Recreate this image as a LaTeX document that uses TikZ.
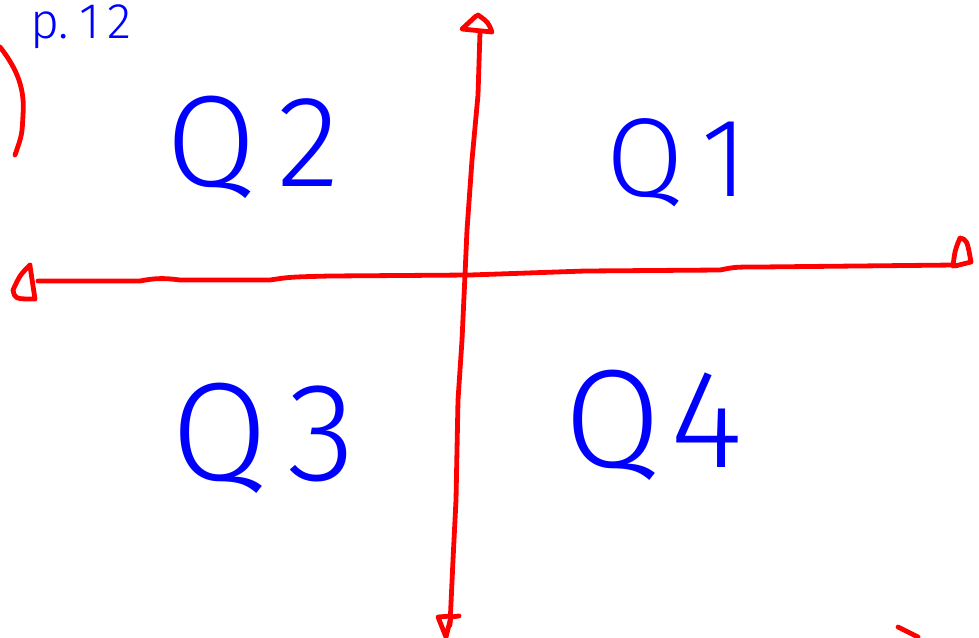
\documentclass[tikz,border=0pt]{standalone}
\usepackage{fontspec}
\newfontfamily\hand{Fira Sans Light}
\begin{document}
\begin{tikzpicture}[x=1pt,y=-1pt,
  redline/.style={draw=red, line width=4.8pt, line cap=round, line join=round},
  handtext/.style={text=blue, inner sep=0pt, anchor=base west, font=\hand}]
\useasboundingbox (0,0) rectangle (979,637);
\fill[white] (0,0) rectangle (979,637);
\begin{scope}
\clip (0,0) rectangle (979,637);
% axes end points
\coordinate (L) at (38,281);
\coordinate (R) at (955,265);
\coordinate (T) at (480,32);
\coordinate (B) at (450,625);
% horizontal axis
\draw[redline] (L) -- (140,281) .. controls (155,278) and (165,278) .. (180,280) -- (270,280)
  .. controls (290,277) .. (330,276) -- (470,275) -- (585,271) -- (720,270)
  .. controls (735,267) .. (760,267) -- (R);
% vertical axis
\draw[redline] (T) -- (478,95) -- (472,160) -- (467,230) -- (465,275) -- (462,340)
  -- (458,400) -- (456,500) -- (453,560) -- (B);
% arrow heads
\draw[redline] (476,16) -- (462,29) -- (492,32) .. controls (488,22) .. (478,15);
\draw[redline] (953,266) .. controls (955,250) .. (960,238) .. controls (967,240) .. (971,262) -- (955,266);
\draw[redline] (30,265) .. controls (20,275) .. (13,290) .. controls (15,299) .. (35,299) -- (30,266);
\draw[redline] (451,616) -- (438,617) -- (446,637) -- (451,617) -- (459,616);
% extra red marks
\draw[redline] (0,47) .. controls (18,70) and (25,90) .. (23,115) .. controls (22,135) .. (15,155);
\draw[redline] (898,627) -- (918,637);
\end{scope}
% texts
\node[handtext, font=\hand\fontsize{50}{50}\selectfont] (p) at (30,38) {p.\hspace{10pt}1\hspace{8pt}2};
\node[handtext, font=\hand\fontsize{130}{130}\selectfont] (q2) at (166,186) {Q\hspace{22pt}2};
\node[handtext, font=\hand\fontsize{112}{112}\selectfont] (q1) at (606,196) {Q\hspace{18pt}1};
\node[handtext, font=\hand\fontsize{140}{140}\selectfont] (q3) at (171,480) {Q\hspace{20pt}3};
\node[handtext, font=\hand\fontsize{140}{140}\selectfont] (q4) at (564,467) {Q\hspace{10pt}4};
\end{tikzpicture}
\end{document}
